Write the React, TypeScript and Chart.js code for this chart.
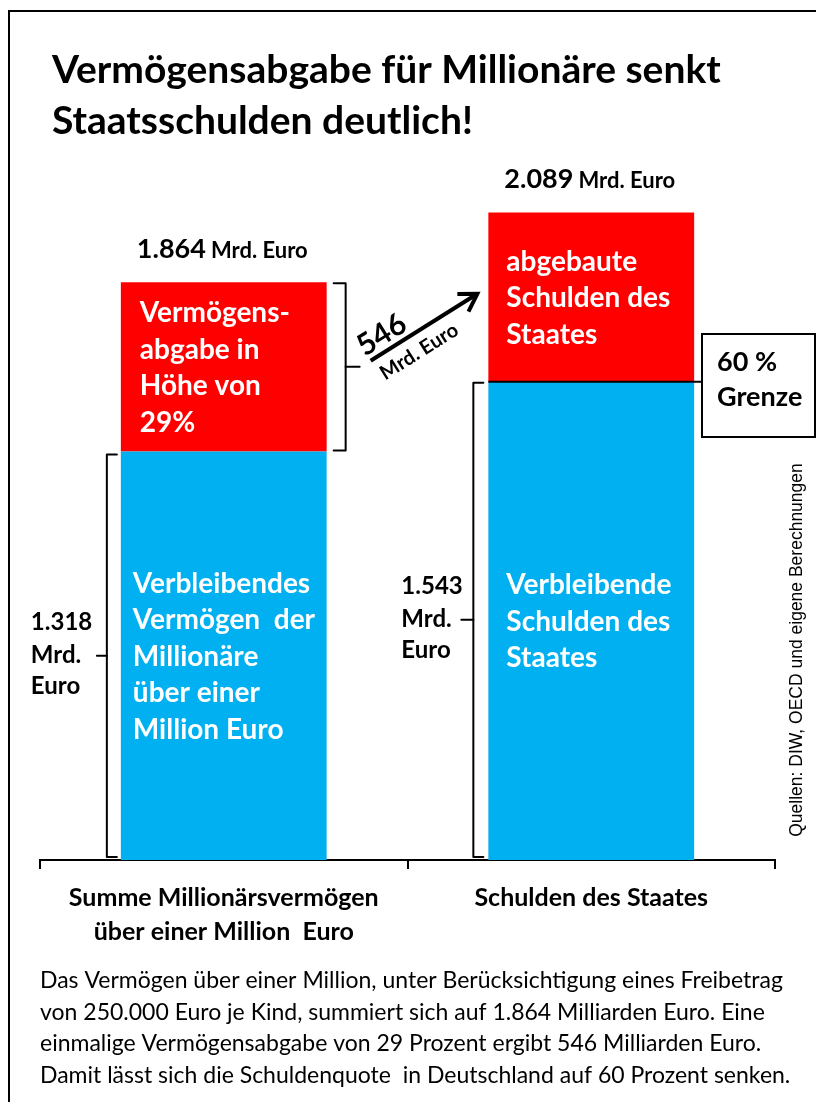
import React, { useEffect, useRef } from "react";
import { Chart, registerables } from "chart.js";

Chart.register(...registerables);

const categories = [["Summe Millionärsvermögen", "über einer Million  Euro"], ["Schulden des Staates"]];
const remainingValues = [1318, 1543];
const levyValues = [546, 546];
const yMax = 2200;

const titleLines = ["Vermögensabgabe für Millionäre senkt", "Staatsschulden deutlich!"];
const redTexts = [
  ["Vermögens-", "abgabe in", "Höhe von", "29%"],
  ["abgebaute", "Schulden des", "Staates"],
];
const blueTexts = [
  ["Verbleibendes", "Vermögen  der", "Millionäre", "über einer", "Million Euro"],
  ["Verbleibende", "Schulden des", "Staates"],
];
const unitText = "Mrd. Euro";
const unitLines = ["Mrd.", "Euro"];
const limitLines = ["60 %", "Grenze"];
const sourceText = "Quellen: DIW, OECD und eigene Berechnungen";
const footerLines = [
  "Das Vermögen über einer Million, unter Berücksichtigung eines Freibetrag",
  "von 250.000 Euro je Kind, summiert sich auf 1.864 Milliarden Euro. Eine",
  "einmalige Vermögensabgabe von 29 Prozent ergibt 546 Milliarden Euro.",
  "Damit lässt sich die Schuldenquote  in Deutschland auf 60 Prozent senken.",
];

const BLUE = "#00B0F0";
const RED = "#FF0000";
const FONT = "Lato";

const fmt = (v: number) => v.toLocaleString("de-DE");

const annotations = {
  id: "annotations",
  afterDraw(chart: any) {
    const ctx: CanvasRenderingContext2D = chart.ctx;
    const ys = chart.scales.y;
    const blueMeta = chart.getDatasetMeta(0).data;
    ctx.save();

    // frame
    ctx.strokeStyle = "#000";
    ctx.lineWidth = 2;
    ctx.beginPath();
    ctx.moveTo(9, 1102);
    ctx.lineTo(9, 11);
    ctx.lineTo(816, 11);
    ctx.stroke();

    // title
    ctx.fillStyle = "#000";
    ctx.textAlign = "left";
    ctx.textBaseline = "alphabetic";
    ctx.font = `bold 39px ${FONT}`;
    ctx.fillText(titleLines[0], 52, 83);
    ctx.fillText(titleLines[1], 52, 134);

    const geo = blueMeta.map((bar: any, i: number) => {
      const p = bar.getProps(["x", "width"], true);
      const left = p.x - p.width / 2;
      const right = p.x + p.width / 2;
      return {
        left,
        right,
        cx: p.x,
        yZero: ys.getPixelForValue(0),
        yMid: ys.getPixelForValue(remainingValues[i]),
        yTop: ys.getPixelForValue(remainingValues[i] + levyValues[i]),
      };
    });

    // total labels above bars
    geo.forEach((g: any, i: number) => {
      const total = remainingValues[i] + levyValues[i];
      ctx.fillStyle = "#000";
      ctx.textAlign = "left";
      ctx.font = `bold 27px ${FONT}`;
      const numTxt = fmt(total);
      ctx.fillText(numTxt, g.left + 16, g.yTop - 24);
      const w = ctx.measureText(numTxt).width;
      ctx.font = `bold 22px ${FONT}`;
      ctx.fillText(unitText, g.left + 16 + w + 5, g.yTop - 24);
    });

    // texts inside bars
    const lh = 36.5;
    const capHalf = 10;
    const drawBlock = (lines: string[], x: number, yCenter: number) => {
      ctx.fillStyle = "#fff";
      ctx.textAlign = "left";
      ctx.font = `bold 28px ${FONT}`;
      const first = yCenter - ((lines.length - 1) * lh) / 2 + capHalf;
      lines.forEach((t, k) => ctx.fillText(t, x, first + k * lh));
    };
    drawBlock(redTexts[0], geo[0].left + 19, (geo[0].yTop + geo[0].yMid) / 2);
    drawBlock(redTexts[1], geo[1].left + 18, (geo[1].yTop + geo[1].yMid) / 2);
    drawBlock(blueTexts[0], geo[0].left + 12, (geo[0].yMid + geo[0].yZero) / 2);
    drawBlock(blueTexts[1], geo[1].left + 18, (geo[1].yMid + geo[1].yZero) / 2);

    // brackets
    const bracket = (xv: number, y1: number, y2: number, armX: number, tickX: number) => {
      ctx.strokeStyle = "#000";
      ctx.lineWidth = 2;
      ctx.lineJoin = "round";
      ctx.lineCap = "round";
      ctx.beginPath();
      ctx.moveTo(armX, y1);
      ctx.lineTo(xv, y1);
      ctx.lineTo(xv, y2);
      ctx.lineTo(armX, y2);
      ctx.stroke();
      const ym = (y1 + y2) / 2;
      ctx.beginPath();
      ctx.moveTo(xv, ym);
      ctx.lineTo(tickX, ym);
      ctx.stroke();
      return ym;
    };
    const g0 = geo[0];
    const g1 = geo[1];
    const redTickY = bracket(g0.right + 19, g0.yTop + 1, g0.yMid - 1, g0.right + 7, g0.right + 33);
    const leftTickY = bracket(g0.left - 14, g0.yMid + 3, g0.yZero - 3, g0.left - 4, g0.left - 24);
    const rightTickY = bracket(g1.left - 15, g1.yMid + 1, g1.yZero - 3, g1.left - 5, g1.left - 27);

    // labels for remaining values
    const sideLabel = (value: number, x: number, tickY: number) => {
      ctx.fillStyle = "#000";
      ctx.textAlign = "left";
      ctx.font = `bold 24px ${FONT}`;
      ctx.fillText(fmt(value), x, tickY - 26);
      ctx.fillText(unitLines[0], x, tickY + 7);
      ctx.fillText(unitLines[1], x, tickY + 38);
    };
    sideLabel(remainingValues[0], g0.left - 90, leftTickY);
    sideLabel(remainingValues[1], g1.left - 87, rightTickY);

    // arrow
    const sx = g0.right + 44;
    const sy = redTickY - 6;
    const tx = g1.left - 11;
    const ty = redTickY - 73;
    ctx.strokeStyle = "#000";
    ctx.lineWidth = 4;
    ctx.lineCap = "butt";
    ctx.beginPath();
    ctx.moveTo(sx, sy);
    ctx.lineTo(tx, ty);
    ctx.stroke();
    const ang = Math.atan2(ty - sy, tx - sx);
    const headLen = 20;
    ctx.lineJoin = "miter";
    ctx.beginPath();
    ctx.moveTo(tx - headLen * Math.cos(ang - 0.55), ty - headLen * Math.sin(ang - 0.55));
    ctx.lineTo(tx, ty);
    ctx.lineTo(tx - headLen * Math.cos(ang + 0.55), ty - headLen * Math.sin(ang + 0.55));
    ctx.stroke();

    const mx = (sx + tx) / 2;
    const my = (sy + ty) / 2;
    const ux = Math.cos(ang);
    const uy = Math.sin(ang);
    ctx.save();
    ctx.translate(mx - 40 * ux + 16 * uy, my - 40 * uy - 16 * ux);
    ctx.rotate(ang);
    ctx.fillStyle = "#000";
    ctx.textAlign = "center";
    ctx.textBaseline = "middle";
    ctx.font = `bold 30px ${FONT}`;
    ctx.fillText(fmt(levyValues[0]), 0, 0);
    ctx.restore();
    ctx.save();
    ctx.translate(mx - 17 * ux - 18 * uy, my - 17 * uy + 18 * ux);
    ctx.rotate(ang);
    ctx.fillStyle = "#000";
    ctx.textAlign = "center";
    ctx.textBaseline = "middle";
    ctx.font = `bold 20px ${FONT}`;
    ctx.fillText(unitText, 0, 0);
    ctx.restore();

    // 60 % limit line and box
    ctx.strokeStyle = "#000";
    ctx.lineWidth = 2;
    ctx.beginPath();
    ctx.moveTo(g1.left, g1.yMid);
    ctx.lineTo(702, g1.yMid);
    ctx.stroke();
    ctx.strokeRect(702, 334, 113, 103);
    ctx.fillStyle = "#000";
    ctx.textAlign = "left";
    ctx.textBaseline = "alphabetic";
    ctx.font = `bold 27px ${FONT}`;
    ctx.fillText(limitLines[0], 717, 371);
    ctx.fillText(limitLines[1], 717, 406);

    // source
    ctx.save();
    ctx.translate(797, 650);
    ctx.rotate(-Math.PI / 2);
    ctx.textAlign = "center";
    ctx.textBaseline = "middle";
    ctx.font = `17.5px "Liberation Sans"`;
    ctx.fillStyle = "#000";
    ctx.fillText(sourceText, 0, 0);
    ctx.restore();

    // footer
    ctx.fillStyle = "#000";
    ctx.textAlign = "left";
    ctx.textBaseline = "alphabetic";
    ctx.font = `23px ${FONT}`;
    footerLines.forEach((t, k) => ctx.fillText(t, 40, 988 + k * 31.7));

    ctx.restore();
  },
};

export default function App() {
  const ref = useRef<HTMLCanvasElement | null>(null);
  useEffect(() => {
    if (!ref.current) return;
    const chart = new Chart(ref.current, {
      type: "bar",
      data: {
        labels: categories as any,
        datasets: [
          {
            data: remainingValues,
            backgroundColor: BLUE,
            barPercentage: 0.56,
            categoryPercentage: 1,
            borderWidth: 0,
          },
          {
            data: levyValues,
            backgroundColor: RED,
            barPercentage: 0.56,
            categoryPercentage: 1,
            borderWidth: 0,
          },
        ],
      },
      options: {
        responsive: false,
        animation: false,
        devicePixelRatio: 1,
        layout: { padding: { left: 40, right: 41, top: 178, bottom: 0 } },
        plugins: {
          legend: { display: false },
          tooltip: { enabled: false },
          title: { display: false },
        },
        scales: {
          x: {
            stacked: true,
            offset: true,
            grid: {
              display: true,
              drawOnChartArea: false,
              drawTicks: true,
              tickLength: 9,
              color: "#000",
              lineWidth: 2,
              offset: true,
            },
            border: { display: true, color: "#000", width: 2 },
            ticks: {
              color: "#000",
              font: { family: FONT, size: 25, weight: "bold", lineHeight: 1.36 },
              padding: 12,
              maxRotation: 0,
              autoSkip: false,
            },
            afterFit: (s: any) => {
              s.height = 242;
            },
          },
          y: { stacked: true, display: false, min: 0, max: yMax },
        },
      },
      plugins: [annotations],
    });
    return () => chart.destroy();
  }, []);
  return (
    <div style={{ position: "fixed", left: 0, top: 0, width: 816, height: 1102, background: "#fff" }}>
      <canvas ref={ref} width={816} height={1102} style={{ display: "block" }} />
    </div>
  );
}
